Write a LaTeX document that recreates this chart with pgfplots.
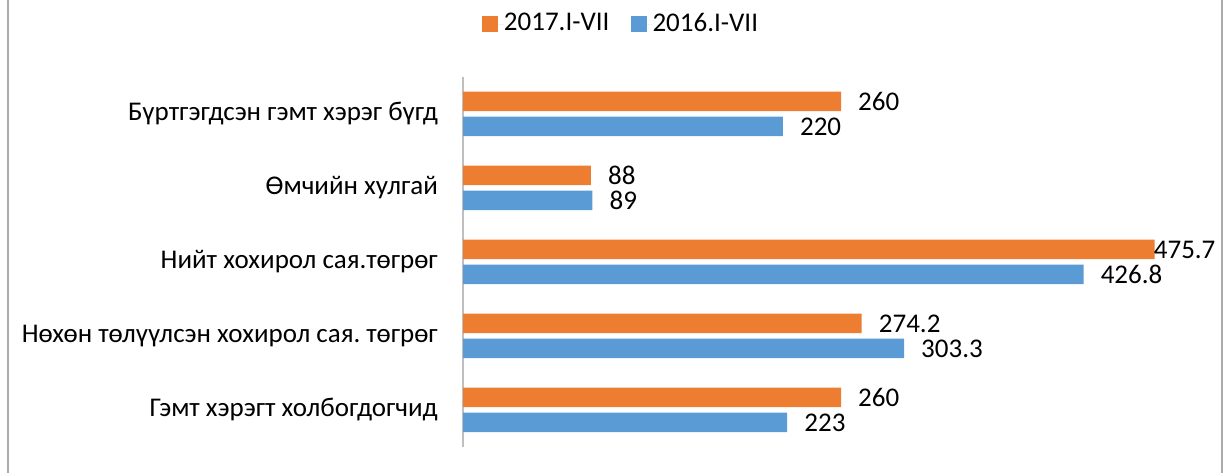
\documentclass[border=0pt]{standalone}
\usepackage{fontspec}
\setmainfont{Carlito}
\usepackage{pgfplots}
\usepackage{pgfplotstable}
\pgfplotsset{compat=1.18}
\frenchspacing

\definecolor{orng}{HTML}{ED7D31}
\definecolor{blu}{HTML}{5B9BD5}
\definecolor{framegray}{HTML}{ABABAB}
\definecolor{axgray}{HTML}{BFBFBF}

% y: 0 = bottom category, 4 = top category
\pgfplotstableread{
y x lbl dx
0 260 260 17
1 274.2 274.2 17
2 475.7 475.7 -1
3 88 88 17
4 260 260 17
}\thisyear
\pgfplotstableread{
y x lbl dx
0 223 223 17
1 303.3 303.3 17
2 426.8 426.8 17
3 89 89 17
4 220 220 17
}\lastyear

\begin{document}
\begin{tikzpicture}
\fontsize{27}{32}\selectfont
\path[use as bounding box] (0,0) rectangle (1223pt,473pt);
\draw[framegray, line width=2.2pt] (7.8pt,0) -- (7.8pt,473pt);
\draw[framegray, line width=2.2pt] (1222pt,0) -- (1222pt,473pt);
\begin{axis}[
    at={(463pt,26pt)}, anchor=south west,
    scale only axis,
    width=727pt, height=370pt,
    xmin=0, xmax=500,
    ymin=-0.5, ymax=4.5,
    xbar, bar width=19.5pt,
    axis x line=none,
    axis y line*=left,
    y axis line style={axgray, line width=1.5pt},
    ytick={0,1,2,3,4},
    yticklabels={Гэмт хэрэгт холбогдогчид, Нөхөн төлүүлсэн хохирол сая. төгрөг, Нийт хохирол сая.төгрөг, Өмчийн хулгай, Бүртгэгдсэн гэмт хэрэг бүгд},
    major tick length=0pt,
    yticklabel style={font=\fontsize{27}{32}\selectfont, inner sep=0pt, xshift=-25pt},
    point meta=explicit symbolic,
    nodes near coords,
    visualization depends on={\thisrow{dx} \as \dx},
    every node near coord/.append style={font=\fontsize{27}{32}\selectfont, anchor=west, inner sep=0pt, xshift=\dx pt},
    legend columns=2,
    legend style={at={(0.216,1.143)}, anchor=center, draw=none, fill=none,
        font=\fontsize{27}{32}\selectfont,
        /tikz/every even column/.append style={column sep=21pt},
        nodes={inner sep=0pt}},
    legend cell align=left,
    legend image code/.code={\fill[#1,draw=none] (0pt,-8pt) rectangle (16pt,8pt);
        \path (0pt,0pt) -- (22pt,0pt);},
]
\addplot[fill=orng, draw=none, bar shift=12.5pt] table[x=x, y=y, meta=lbl] {\thisyear};
\addplot[fill=blu, draw=none, bar shift=-12.5pt] table[x=x, y=y, meta=lbl] {\lastyear};
\legend{2017.I-VII, 2016.I-VII}
\end{axis}
\end{tikzpicture}
\end{document}
